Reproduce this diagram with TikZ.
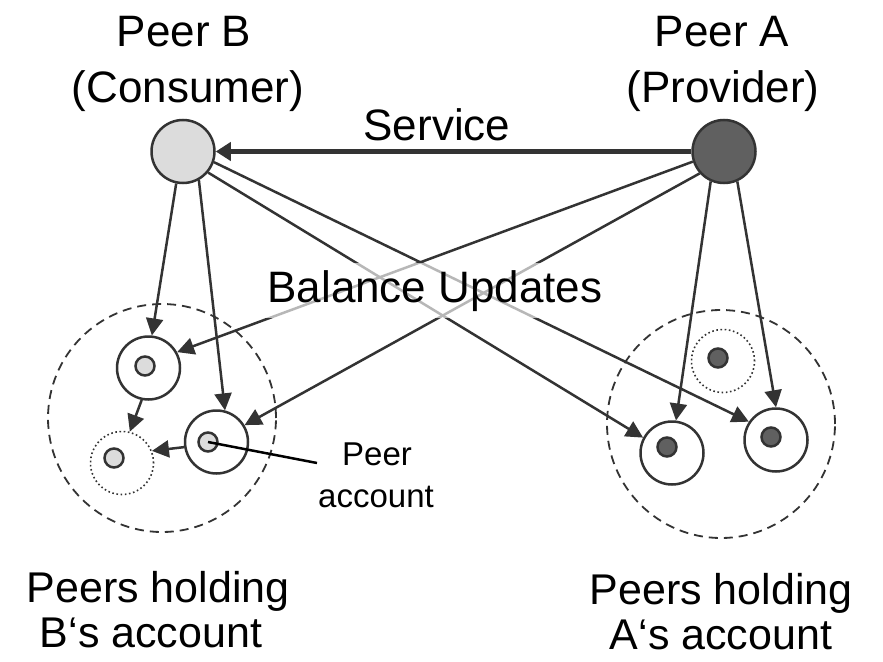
\documentclass[tikz,border=0pt]{standalone}
\usepackage{fontspec}
\setmainfont{Liberation Sans}
\usetikzlibrary{arrows.meta}
\definecolor{ln}{HTML}{333333}
\definecolor{lg}{HTML}{DCDCDC}
\definecolor{dg}{HTML}{606060}
\begin{document}
\begin{tikzpicture}[x=1pt,y=-1pt,
  big/.style={circle, draw=ln, line width=2.5pt, minimum size=63pt, inner sep=0pt},
  peerbox/.style={circle, draw=ln, fill=white, line width=2.5pt, minimum size=63pt, inner sep=0pt},
  ghost/.style={circle, draw=ln, line width=1.6pt, dash pattern=on 1.6pt off 2.6pt, minimum size=63pt, inner sep=0pt},
  acc/.style={circle, draw=ln, line width=2.5pt, minimum size=19pt, inner sep=0pt},
  grp/.style={circle, draw=ln, dash pattern=on 9pt off 6pt, line width=1.8pt, minimum size=228pt, inner sep=0pt},
  conn/.style={draw=ln, line width=2.5pt, -{Triangle[length=17pt,width=17pt]}},
  lbl/.style={font=\fontsize{44}{50}\selectfont, inner sep=0pt, anchor=base},
  lblb/.style={font=\fontsize{43}{50}\selectfont, inner sep=0pt, anchor=base},
  small/.style={font=\fontsize{33}{38}\selectfont, inner sep=0pt, anchor=base},
]
\useasboundingbox[fill=white] (0,0) rectangle (883,661);

% group circles
\node[grp] (GB) at (162,418) {};
\node[grp] (GA) at (721,424) {};

% main peers
\node[big, fill=lg] (B) at (183,151.5) {};
\node[big, fill=dg] (A) at (724,151.5) {};

% peers holding B's account
\node[peerbox] (L1) at (148.5,368) {};
\node[acc, fill=lg] (l1) at (145,366) {};
\node[peerbox] (L2) at (216.5,442) {};
\node[acc, fill=lg] (l2) at (208,442) {};
\node[ghost] (L3) at (122,463) {};
\node[acc, fill=lg] (l3) at (114,458) {};

% peers holding A's account
\node[peerbox] (R1) at (672,453) {};
\node[acc, fill=dg] (r1) at (667,447) {};
\node[peerbox] (R2) at (776,440) {};
\node[acc, fill=dg] (r2) at (771,437) {};
\node[ghost] (R3) at (723,361) {};
\node[acc, fill=dg] (r3) at (718,358) {};

% service
\draw[draw=ln, line width=5pt, -{Triangle[length=15pt,width=18pt]}] (A.180) -- (B.0);

% balance updates from B
\draw[conn] (B.-102) -- (L1.84);
\draw[conn] (B.-61) -- (L2.75);
\draw[conn] (B.-40) -- (R1.152);
\draw[conn] (B.-19) -- (R2.146);
% balance updates from A
\draw[conn] (A.198) -- (L1.29);
\draw[conn] (A.222) -- (L2.31);
\draw[conn] (A.-114) -- (R1.83);
\draw[conn] (A.-66) -- (R2.90);
% internal transfers
\draw[conn] (L1.-102) -- (L3.76);
\draw[conn] (L2.189) -- (L3.22);

% peer account pointer
\coordinate (pa) at (317,463);
\draw[black, line width=2.5pt] (l2.center) -- (pa);

% labels
\node[lbl] (tB1) at (184,47) {Peer B};
\node[lbl] (tB2) at (188,102) {(Consumer)};
\node[lbl] (tA1) at (722,47) {Peer A};
\node[lbl] (tA2) at (723,102) {(Provider)};
\node[lbl] (svc) at (437,140) {Service};
\node[lbl, fill=white, fill opacity=0.65, text opacity=1, inner xsep=4pt, inner ysep=7pt] (bu) at (435,302) {Balance Updates};
\node[small] (pa1) at (377,465) {Peer};
\node[small] (pa2) at (376,507) {account};
\node[lblb] (hB1) at (158,602) {Peers holding};
\node[lblb] (hB2) at (151,647) {B‘s account};
\node[lblb] (hA1) at (721,604) {Peers holding};
\node[lblb] (hA2) at (721,649) {A‘s account};
\end{tikzpicture}
\end{document}
